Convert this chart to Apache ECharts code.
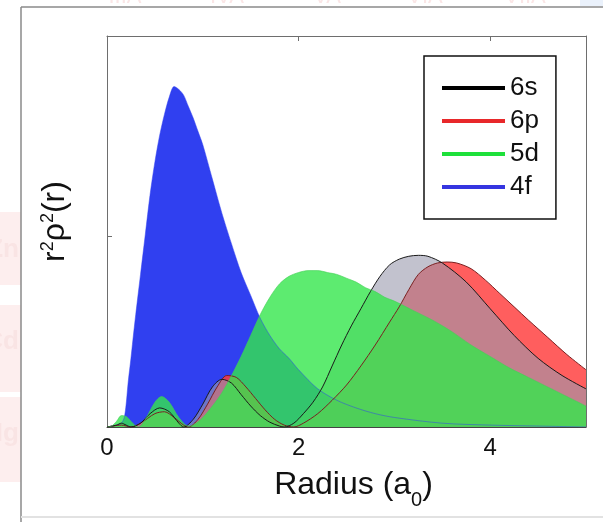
<!DOCTYPE html>
<html>
<head>
<meta charset="utf-8">
<title>Radial distribution</title>
<script src="https://cdn.jsdelivr.net/npm/echarts@6.0.0/dist/echarts.min.js"></script>
<style>
  html, body { margin: 0; padding: 0; background: #fff; }
  #chart { width: 603px; height: 522px; }
</style>
</head>
<body>
<div id="chart"></div>
<script>
// radius (a0) and r^2 rho^2(r)
const radius6s = [0, 0.1, 0.15, 0.2, 0.25, 0.35, 0.45, 0.55, 0.65, 0.75, 0.8, 0.9, 1.0, 1.1, 1.2, 1.3, 1.4, 1.5, 1.6, 1.7, 1.8, 1.85, 1.95, 2.05, 2.15, 2.25, 2.35, 2.45, 2.55, 2.65, 2.75, 2.85, 2.95, 3.05, 3.15, 3.25, 3.35, 3.5, 3.75, 4.0, 4.25, 4.5, 4.75, 5.0];
const density6s = [0, 0.01, 0.02, 0.01, 0, 0.02, 0.07, 0.10, 0.08, 0.02, 0, 0.04, 0.12, 0.21, 0.25, 0.23, 0.17, 0.11, 0.06, 0.025, 0.005, 0, 0.02, 0.07, 0.13, 0.21, 0.32, 0.43, 0.53, 0.62, 0.71, 0.79, 0.85, 0.88, 0.895, 0.90, 0.895, 0.86, 0.76, 0.62, 0.48, 0.36, 0.27, 0.20];

const radius6p = [0, 0.15, 0.25, 0.35, 0.5, 0.6, 0.7, 0.8, 0.85, 0.95, 1.05, 1.15, 1.25, 1.35, 1.45, 1.55, 1.65, 1.75, 1.85, 1.95, 2.05, 2.2, 2.35, 2.5, 2.65, 2.8, 2.95, 3.05, 3.15, 3.25, 3.35, 3.45, 3.55, 3.65, 3.8, 3.95, 4.1, 4.25, 4.4, 4.6, 4.8, 5.0];
const density6p = [0, 0.01, 0, 0.02, 0.07, 0.08, 0.05, 0.01, 0, 0.04, 0.12, 0.21, 0.27, 0.26, 0.21, 0.15, 0.09, 0.04, 0.01, 0, 0.02, 0.07, 0.14, 0.22, 0.32, 0.43, 0.55, 0.63, 0.72, 0.80, 0.84, 0.86, 0.865, 0.86, 0.83, 0.77, 0.70, 0.63, 0.56, 0.47, 0.38, 0.30];

const radius5d = [0, 0.05, 0.1, 0.15, 0.2, 0.25, 0.3, 0.33, 0.4, 0.5, 0.57, 0.65, 0.75, 0.85, 0.9, 1.0, 1.1, 1.2, 1.3, 1.4, 1.5, 1.6, 1.7, 1.8, 1.9, 2.0, 2.1, 2.2, 2.3, 2.4, 2.5, 2.6, 2.7, 2.8, 2.9, 3.0, 3.2, 3.4, 3.6, 3.8, 4.0, 4.2, 4.4, 4.6, 4.8, 5.0];
const density5d = [0, 0.005, 0.03, 0.06, 0.055, 0.03, 0.005, 0, 0.04, 0.13, 0.16, 0.13, 0.05, 0.005, 0.01, 0.05, 0.11, 0.18, 0.27, 0.37, 0.48, 0.59, 0.68, 0.75, 0.79, 0.81, 0.82, 0.82, 0.81, 0.80, 0.78, 0.76, 0.73, 0.71, 0.68, 0.66, 0.61, 0.56, 0.50, 0.43, 0.37, 0.31, 0.26, 0.21, 0.16, 0.11];

const radius4f = [0, 0.05, 0.1, 0.15, 0.18, 0.2, 0.22, 0.25, 0.27, 0.3, 0.35, 0.4, 0.45, 0.5, 0.55, 0.6, 0.65, 0.7, 0.75, 0.8, 0.85, 0.9, 0.95, 1.0, 1.1, 1.2, 1.3, 1.4, 1.5, 1.6, 1.7, 1.8, 1.9, 2.0, 2.2, 2.4, 2.6, 2.8, 3.0, 3.5, 4.0, 4.5, 5.0];
const density4f = [0, 0.005, 0.01, 0.02, 0.05, 0.12, 0.23, 0.36, 0.455, 0.59, 0.80, 1.01, 1.22, 1.39, 1.53, 1.64, 1.73, 1.785, 1.77, 1.74, 1.68, 1.62, 1.55, 1.48, 1.30, 1.12, 0.96, 0.81, 0.69, 0.57, 0.48, 0.41, 0.36, 0.30, 0.20, 0.14, 0.10, 0.07, 0.05, 0.02, 0.01, 0.005, 0];

const orbitals = ['6s', '6p', '5d', '4f'];
const xTicks = [0, 2, 4];

const FONT = 'Liberation Sans, Arial, sans-serif';

const zip = (xs, ys) => xs.map((x, i) => [x, ys[i]]);

const legendColors = { '6s': '#000000', '6p': '#e8282a', '5d': '#1ee03a', '4f': '#3535e0' };

const myChart = echarts.init(document.getElementById('chart'), null, { renderer: 'canvas' });

// faint slide leftovers around the figure
const bgGraphic = [
  { type: 'rect', shape: { x: 0, y: 212, width: 21, height: 73 }, style: { fill: '#fdeeee' }, z: -5 },
  { type: 'rect', shape: { x: 0, y: 305, width: 21, height: 87 }, style: { fill: '#fdeeee' }, z: -5 },
  { type: 'rect', shape: { x: 0, y: 397, width: 21, height: 85 }, style: { fill: '#fdeeee' }, z: -5 },
  { type: 'rect', shape: { x: 580, y: 0, width: 23, height: 6 }, style: { fill: '#eaf1fb' }, z: -5 },
  { type: 'text', x: 19, y: 250, style: { text: 'Zn', font: 'bold 26px ' + FONT, fill: '#f9e4e4', align: 'right', verticalAlign: 'middle' }, z: -4 },
  { type: 'text', x: 19, y: 342, style: { text: 'Cd', font: 'bold 26px ' + FONT, fill: '#f9e4e4', align: 'right', verticalAlign: 'middle' }, z: -4 },
  { type: 'text', x: 19, y: 434, style: { text: 'Hg', font: 'bold 26px ' + FONT, fill: '#f9e4e4', align: 'right', verticalAlign: 'middle' }, z: -4 },
  { type: 'text', x: 125, y: 8, style: { text: 'IIIA', font: '22px ' + FONT, fill: '#fae6e6', align: 'center', verticalAlign: 'bottom' }, z: -4 },
  { type: 'text', x: 227, y: 8, style: { text: 'IVA', font: '22px ' + FONT, fill: '#fae6e6', align: 'center', verticalAlign: 'bottom' }, z: -4 },
  { type: 'text', x: 327, y: 8, style: { text: 'VA', font: '22px ' + FONT, fill: '#fae6e6', align: 'center', verticalAlign: 'bottom' }, z: -4 },
  { type: 'text', x: 425, y: 8, style: { text: 'VIA', font: '22px ' + FONT, fill: '#fae6e6', align: 'center', verticalAlign: 'bottom' }, z: -4 },
  { type: 'text', x: 525, y: 8, style: { text: 'VIIA', font: '22px ' + FONT, fill: '#fae6e6', align: 'center', verticalAlign: 'bottom' }, z: -4 },
  { type: 'rect', shape: { x: 21, y: 7, width: 590, height: 0 }, style: { fill: 'none', stroke: '#8a8a8a', lineWidth: 1.5 }, z: -3 },
  { type: 'rect', shape: { x: 21, y: 7, width: 0, height: 520 }, style: { fill: 'none', stroke: '#8a8a8a', lineWidth: 1.5 }, z: -3 },
  { type: 'rect', shape: { x: 21, y: 517, width: 590, height: 0 }, style: { fill: 'none', stroke: '#e2e2e2', lineWidth: 2 }, z: -3 }
];

const axisGrey = '#6e6e6e';

const areaSeries = (name, xs, ys, fill, opacity, stroke, strokeWidth) => ({
  name: name,
  type: 'line',
  data: zip(xs, ys),
  smooth: 0.3,
  showSymbol: false,
  symbol: 'none',
  itemStyle: { color: legendColors[name] },
  lineStyle: { color: stroke, width: strokeWidth },
  areaStyle: { color: fill, opacity: opacity, origin: 'start' },
  emphasis: { disabled: true },
  xAxisIndex: 0,
  yAxisIndex: 0
});

const option = {
  animation: false,
  backgroundColor: '#ffffff',
  textStyle: { fontFamily: FONT },
  grid: { left: 107, right: 17, top: 36, bottom: 95, outerBoundsMode: 'none' },
  graphic: bgGraphic,
  legend: {
    data: orbitals.map(n => ({ name: n, itemStyle: { color: legendColors[n] } })),
    orient: 'vertical',
    left: 424,
    top: 56,
    icon: 'rect',
    itemWidth: 63,
    itemHeight: 4,
    itemGap: 7,
    padding: [19, 17, 19, 18],
    borderColor: '#111',
    borderWidth: 1.5,
    borderRadius: 0,
    backgroundColor: '#fff',
    selectedMode: false,
    textStyle: { fontSize: 26, color: '#111', fontFamily: FONT }
  },
  xAxis: [
    {
      type: 'value',
      position: 'bottom',
      min: 0,
      max: 5,
      interval: 2,
      axisLine: { show: true, onZero: false, lineStyle: { color: '#444', width: 1 } },
      axisTick: { show: true, inside: true, length: 5, lineStyle: { color: axisGrey } },
      axisLabel: {
        fontSize: 24, color: '#111', margin: 9, fontFamily: FONT,
        showMaxLabel: false,
        formatter: v => (xTicks.indexOf(v) >= 0 ? String(v) : '')
      },
      splitLine: { show: false },
      name: '{m|Radius (a}{s|0}{m|)}',
      nameLocation: 'middle',
      nameGap: 42,
      nameTextStyle: {
        fontFamily: FONT,
        padding: [0, 0, 0, 14],
        rich: {
          m: { fontSize: 32, lineHeight: 34, verticalAlign: 'top', color: '#111', fontFamily: FONT },
          s: { fontSize: 20, lineHeight: 20, verticalAlign: 'top', padding: [21, 0, 0, 0], color: '#111', fontFamily: FONT }
        }
      }
    },
    {
      type: 'value',
      position: 'top',
      min: 0,
      max: 5,
      interval: 2,
      axisLine: { show: true, onZero: false, lineStyle: { color: axisGrey, width: 1 } },
      axisTick: { show: true, inside: true, length: 5, lineStyle: { color: axisGrey } },
      axisLabel: { show: false },
      splitLine: { show: false }
    }
  ],
  yAxis: [
    {
      type: 'value',
      position: 'left',
      min: 0,
      max: 2.05,
      interval: 1,
      axisLine: { show: true, onZero: false, lineStyle: { color: axisGrey, width: 1 } },
      axisTick: { show: true, inside: true, length: 5, customValues: [1], lineStyle: { color: axisGrey } },
      axisLabel: { show: false },
      splitLine: { show: false },
      name: '{m|r}{s|2}{m|\u03c1}{s|2}{m|(r)}',
      nameLocation: 'middle',
      nameRotate: 90,
      nameGap: 22,
      nameTextStyle: {
        fontFamily: FONT,
        padding: [0, 0, 0, 20],
        rich: {
          m: { fontSize: 32, lineHeight: 46, verticalAlign: 'top', color: '#111', fontFamily: FONT },
          s: { fontSize: 18, lineHeight: 18, verticalAlign: 'top', color: '#111', fontFamily: FONT }
        }
      }
    },
    {
      type: 'value',
      position: 'right',
      min: 0,
      max: 2.05,
      axisLine: { show: true, onZero: false, lineStyle: { color: axisGrey, width: 1 } },
      axisTick: { show: false },
      axisLabel: { show: false },
      splitLine: { show: false }
    }
  ],
  series: [
    areaSeries('4f', radius4f, density4f, '#3040f0', 1, '#3040f0', 0.5),
    areaSeries('6p', radius6p, density6p, '#ff3a3a', 0.82, '#7a2020', 1),
    areaSeries('6s', radius6s, density6s, '#9a9aae', 0.6, '#1a1a1a', 1),
    areaSeries('5d', radius5d, density5d, '#35e64c', 0.8, '#44d058', 0.6)
  ]
};

myChart.setOption(option);
</script>
</body>
</html>
